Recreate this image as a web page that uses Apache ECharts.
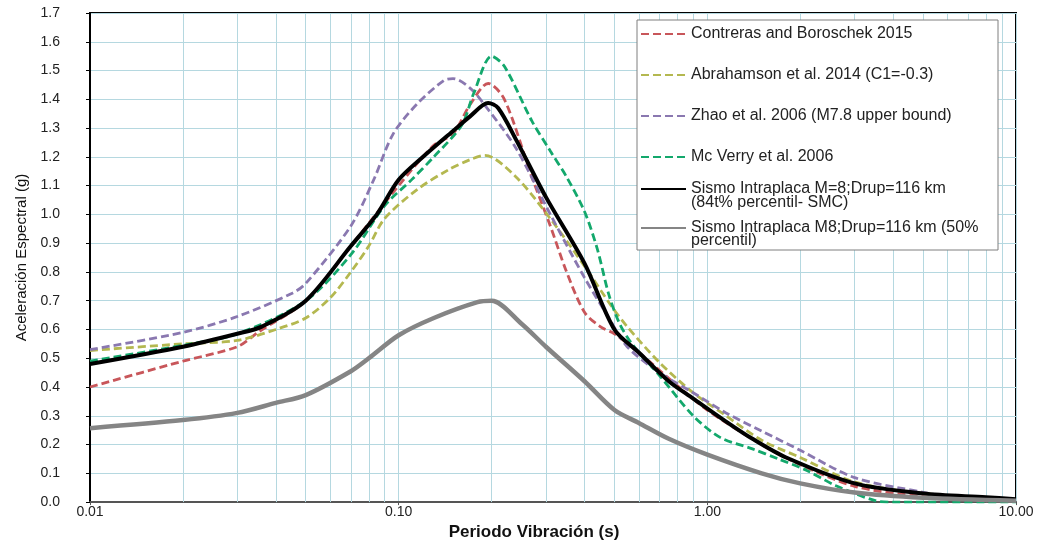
<!DOCTYPE html>
<html><head><meta charset="utf-8">
<script src="https://cdn.jsdelivr.net/npm/echarts@6/dist/echarts.min.js"></script>
<style>html,body{margin:0;padding:0;background:#fff}#c{width:1040px;height:546px}</style>
</head><body><div id="c"></div>
<script>
// Series names
const seriesNames = [
  'Contreras and Boroschek 2015',
  'Abrahamson et al. 2014 (C1=-0.3)',
  'Zhao et al. 2006 (M7.8 upper bound)',
  'Mc Verry et al. 2006',
  'Sismo Intraplaca M=8;Drup=116 km\n(84t% percentil- SMC)',
  'Sismo Intraplaca M8;Drup=116 km (50%\npercentil)'
];
// [period (s), spectral acceleration (g)]
const contreras = [[0.01,0.40],[0.02,0.49],[0.03,0.54],[0.035,0.59],[0.05,0.70],[0.07,0.89],[0.1,1.10],[0.13,1.24],[0.15,1.28],[0.17,1.38],[0.195,1.455],[0.22,1.40],[0.27,1.13],[0.31,0.96],[0.35,0.80],[0.4,0.66],[0.45,0.61],[0.5,0.585],[0.6,0.52],[0.75,0.43],[1.0,0.32],[1.5,0.20],[2,0.13],[3,0.055],[5,0.02],[10,0.005]];
const abrahamson = [[0.01,0.527],[0.02,0.55],[0.03,0.562],[0.04,0.60],[0.05,0.64],[0.06,0.71],[0.07,0.80],[0.08,0.89],[0.09,0.985],[0.115,1.087],[0.145,1.155],[0.17,1.19],[0.19,1.205],[0.24,1.13],[0.31,0.985],[0.4,0.82],[0.49,0.68],[0.55,0.61],[0.7,0.485],[0.9,0.38],[1.15,0.30],[1.5,0.215],[2,0.155],[3,0.07],[5,0.03],[10,0.008]];
const zhao = [[0.01,0.53],[0.02,0.59],[0.03,0.645],[0.045,0.725],[0.05,0.76],[0.07,0.96],[0.083,1.12],[0.096,1.28],[0.115,1.385],[0.14,1.465],[0.15,1.472],[0.17,1.44],[0.19,1.38],[0.24,1.23],[0.31,1.0],[0.4,0.78],[0.48,0.64],[0.55,0.54],[0.7,0.45],[0.9,0.38],[1.15,0.31],[1.5,0.247],[2,0.18],[3,0.085],[5,0.034],[6.2,0.017],[10,0.005]];
const mcverry = [[0.01,0.49],[0.02,0.545],[0.03,0.585],[0.05,0.70],[0.07,0.86],[0.09,1.03],[0.11,1.12],[0.13,1.20],[0.16,1.31],[0.175,1.42],[0.2,1.55],[0.22,1.515],[0.27,1.325],[0.31,1.22],[0.35,1.13],[0.4,1.01],[0.44,0.88],[0.48,0.72],[0.52,0.62],[0.57,0.55],[0.7,0.44],[0.9,0.30],[1.1,0.225],[1.4,0.185],[1.7,0.15],[2.1,0.11],[2.6,0.058],[3.5,0.005],[4,0],[10,0]];
const intraplaca84 = [[0.01,0.48],[0.02,0.54],[0.03,0.585],[0.036,0.61],[0.05,0.70],[0.07,0.89],[0.085,1.0],[0.1,1.12],[0.12,1.20],[0.15,1.29],[0.17,1.34],[0.195,1.387],[0.21,1.37],[0.24,1.26],[0.3,1.06],[0.4,0.83],[0.5,0.60],[0.6,0.52],[0.75,0.42],[0.9,0.36],[1.15,0.28],[1.4,0.22],[1.8,0.155],[3,0.065],[5,0.03],[8,0.017],[10,0.01]];
const intraplaca50 = [[0.01,0.257],[0.02,0.285],[0.03,0.31],[0.04,0.345],[0.05,0.372],[0.07,0.455],[0.08,0.50],[0.1,0.58],[0.13,0.64],[0.18,0.695],[0.2,0.70],[0.25,0.62],[0.3,0.54],[0.4,0.42],[0.5,0.32],[0.6,0.275],[0.75,0.22],[1.0,0.165],[1.5,0.10],[2,0.065],[3,0.033],[5,0.015],[10,0.005]];
// minor log grid positions
const minorPeriods = [0.02,0.03,0.04,0.05,0.06,0.07,0.08,0.09,0.2,0.3,0.4,0.5,0.6,0.7,0.8,0.9,2,3,4,5,6,7,8,9];

const gridColor = '#b5d8e0';
const FONT = 'Liberation Sans, Arial, sans-serif';
const NARROW = 'Liberation Sans Narrow, Arial Narrow, Liberation Sans, sans-serif';

function dashed(name, data, color) {
  return {name, type:'line', data, smooth:0.3, symbol:'none', showSymbol:false,
    lineStyle:{color, width:2.8, type:[8,4]}, itemStyle:{color}, z:3, animation:false};
}
function solid(name, data, color, w) {
  return {name, type:'line', data, smooth:0.3, symbol:'none', showSymbol:false,
    lineStyle:{color, width:w, type:'solid'}, itemStyle:{color}, z:4, animation:false};
}
const legendBase = {orient:'vertical', left:640, itemWidth:45, itemHeight:14, padding:0, z:10,
  selectedMode:false, itemStyle:{opacity:0}};

const chart = echarts.init(document.getElementById('c'), null, {renderer:'canvas'});
chart.setOption({
  animation:false,
  backgroundColor:'#fff',
  grid:{left:90, right:24, top:13, bottom:34, show:true, borderColor:'#000', borderWidth:2, backgroundColor:'#fff'},
  xAxis:{type:'log', logBase:10, min:0.01, max:10,
    name:'Periodo Vibración (s)', nameLocation:'middle', nameGap:17,
    nameTextStyle:{fontFamily:NARROW, fontSize:17, fontWeight:'bold', color:'#111', padding:[0,38,0,0]},
    axisLine:{show:true, lineStyle:{color:'#555', width:2}},
    axisTick:{show:true, length:3, lineStyle:{color:'#555'}},
    axisLabel:{margin:3, fontFamily:FONT, fontSize:14, color:'#222', formatter:v=>Number(v).toFixed(2)},
    splitLine:{show:true, lineStyle:{color:gridColor, width:1}}},
  yAxis:{type:'value', min:0, max:1.7, interval:0.1,
    name:'Aceleración Espectral (g)', nameLocation:'middle', nameGap:58,
    nameTextStyle:{fontFamily:NARROW, fontSize:15, color:'#111'},
    axisLine:{show:true, lineStyle:{color:'#000', width:2}},
    axisTick:{show:true, length:4, lineStyle:{color:'#000'}},
    axisLabel:{margin:30, fontFamily:FONT, fontSize:14, color:'#222', formatter:v=>v.toFixed(1)},
    splitLine:{show:true, lineStyle:{color:gridColor, width:1}}},
  graphic:[{type:'rect', z:5, shape:{x:637, y:20, width:361, height:230},
    style:{fill:'#fff', stroke:'#7f7f7f', lineWidth:1}}],
  legend:[
    Object.assign({}, legendBase, {data:seriesNames.slice(0,4), top:26, itemGap:25,
      textStyle:{fontFamily:FONT, fontSize:16, color:'#222', lineHeight:14}}),
    Object.assign({}, legendBase, {data:[seriesNames[4]], top:167, formatter:n=>'\n'+n,
      textStyle:{fontFamily:FONT, fontSize:16, color:'#222', lineHeight:14}}),
    Object.assign({}, legendBase, {data:[seriesNames[5]], top:207, formatter:n=>'\n'+n,
      textStyle:{fontFamily:FONT, fontSize:16, color:'#222', lineHeight:13}})
  ],
  series:[
    {type:'line', data:[], silent:true, z:1, animation:false,
      markLine:{silent:true, z:1, symbol:['none','none'], label:{show:false}, animation:false,
        lineStyle:{color:gridColor, width:1, type:'solid'},
        data:minorPeriods.map(v=>({xAxis:v}))}},
    dashed(seriesNames[0], contreras, '#c8565a'),
    dashed(seriesNames[1], abrahamson, '#b4b850'),
    dashed(seriesNames[2], zhao, '#8a78b0'),
    dashed(seriesNames[3], mcverry, '#13a86c'),
    solid(seriesNames[4], intraplaca84, '#000', 4),
    solid(seriesNames[5], intraplaca50, '#858585', 4.5)
  ]
});
</script></body></html>
